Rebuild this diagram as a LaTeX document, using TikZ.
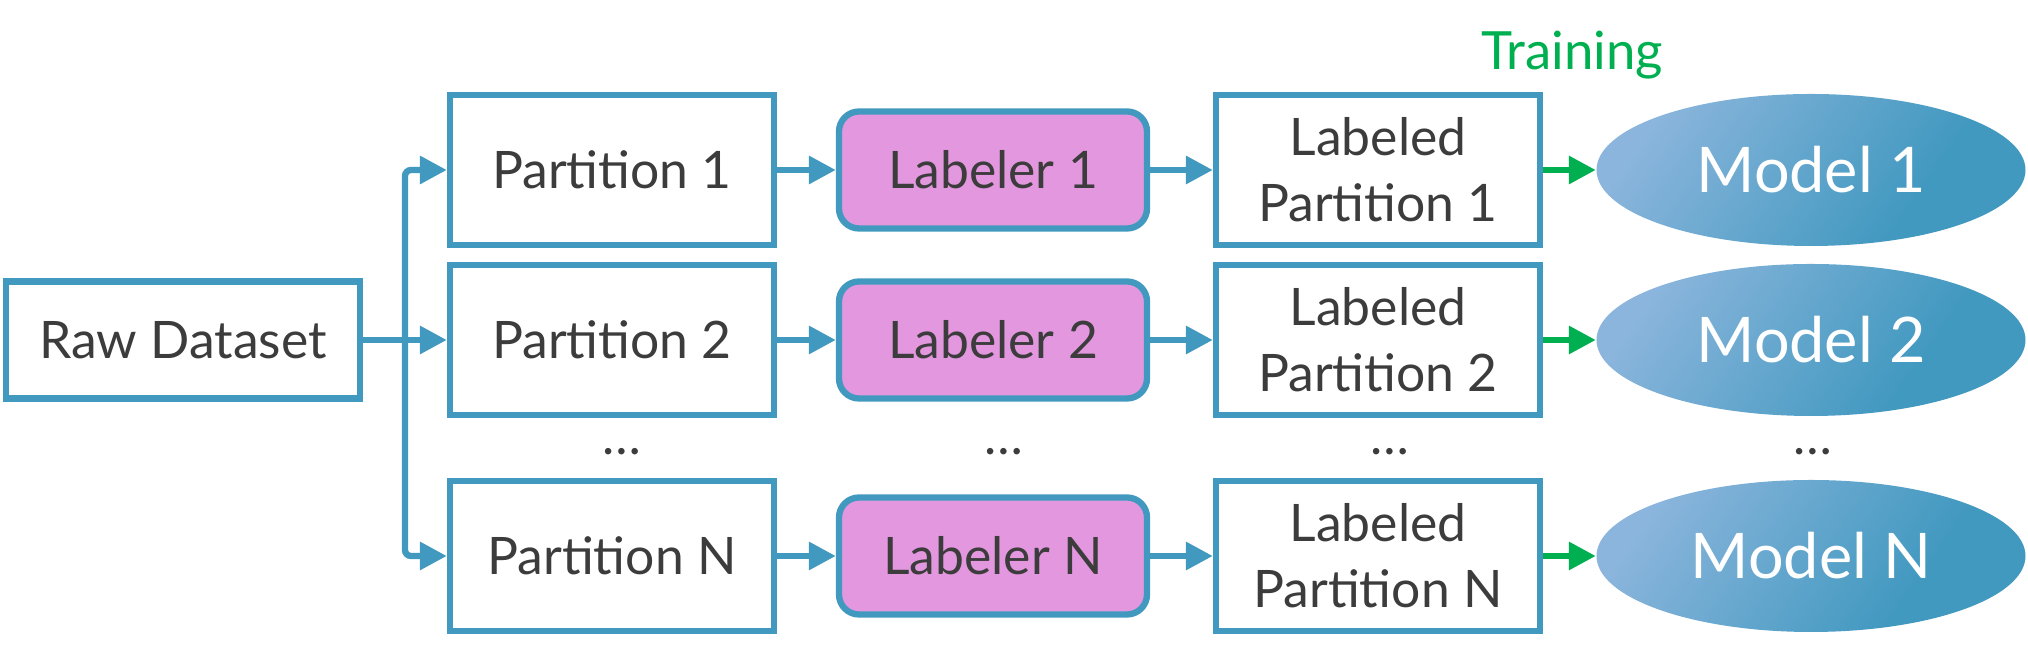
\documentclass[tikz,border=0pt]{standalone}
\usepackage{fontspec}
\setmainfont{Lato}
\usetikzlibrary{arrows.meta,shapes.geometric}

\definecolor{edgeblue}{HTML}{4299C0}
\definecolor{labpink}{HTML}{E397DF}
\definecolor{traingreen}{HTML}{00B050}
\definecolor{modellight}{HTML}{8BB5DC}
\definecolor{textgray}{HTML}{3C3C3C}

\pgfdeclarehorizontalshading{modelshade}{100bp}{color(0bp)=(modellight); color(25bp)=(modellight); color(66bp)=(edgeblue); color(100bp)=(edgeblue)}

\tikzset{
  databox/.style={draw=edgeblue, line width=1.8pt, fill=white, text=textgray,
    align=center, inner sep=0pt, font=\fontsize{14.7}{18.8}\selectfont,
    minimum width=3.24cm, minimum height=1.50cm},
  labelerbox/.style={databox, fill=labpink, rounded corners=0.2cm,
    minimum width=3.08cm, minimum height=1.17cm},
  modelnode/.style={ellipse, inner sep=0pt, minimum width=4.29cm, minimum height=1.52cm,
    text=white, font=\fontsize{17.9}{21}\selectfont,
    shade, shading=modelshade, shading angle=-35},
  flow/.style={draw=edgeblue, line width=1.8pt, -{Triangle[length=0.27cm,width=0.27cm]}},
  trainflow/.style={flow, draw=traingreen, fill=traingreen},
  moredots/.style={anchor=base, text=textgray, font=\fontsize{14.7}{18.8}\selectfont}
}

\begin{document}
\begin{tikzpicture}
\useasboundingbox (0,0) rectangle (20.28,6.56);

\node[databox, minimum width=3.54cm, minimum height=1.17cm] (raw) at (1.83,3.16) {Raw Dataset};

\node[databox] (p1) at (6.12,4.86) {Partition 1};
\node[databox] (p2) at (6.12,3.16) {Partition 2};
\node[databox] (pN) at (6.12,1.00) {Partition N};

\node[labelerbox] (lab1) at (9.93,4.86) {Labeler 1};
\node[labelerbox] (lab2) at (9.93,3.16) {Labeler 2};
\node[labelerbox] (labN) at (9.93,1.00) {Labeler N};

\node[databox] (lp1) at (13.78,4.86) {Labeled\\Partition 1};
\node[databox] (lp2) at (13.78,3.16) {Labeled\\Partition 2};
\node[databox] (lpN) at (13.78,1.00) {Labeled\\Partition N};

\node[modelnode] (m1) at (18.11,4.86) {Model 1};
\node[modelnode] (m2) at (18.11,3.16) {Model 2};
\node[modelnode] (mN) at (18.11,1.00) {Model N};

\node[moredots] (dotsp) at (6.22,2.01) {…};
\node[moredots] (dotslab) at (10.04,2.01) {…};
\node[moredots] (dotslp) at (13.90,2.01) {…};
\node[moredots] (dotsm) at (18.13,2.01) {…};

\node[anchor=base, text=traingreen, font=\fontsize{15}{18}\selectfont] (train) at (15.72,5.86) {Training};

\coordinate (bus) at (4.05,3.16);
\draw[flow] (raw) -- (p2);
\draw[flow, rounded corners=0.06cm] (bus) |- (p1);
\draw[flow, rounded corners=0.06cm] (bus) |- (pN);

\draw[flow] (p1) -- (lab1);
\draw[flow] (p2) -- (lab2);
\draw[flow] (pN) -- (labN);
\draw[flow] (lab1) -- (lp1);
\draw[flow] (lab2) -- (lp2);
\draw[flow] (labN) -- (lpN);

\draw[trainflow] (lp1) -- (m1);
\draw[trainflow] (lp2) -- (m2);
\draw[trainflow] (lpN) -- (mN);
\end{tikzpicture}
\end{document}
